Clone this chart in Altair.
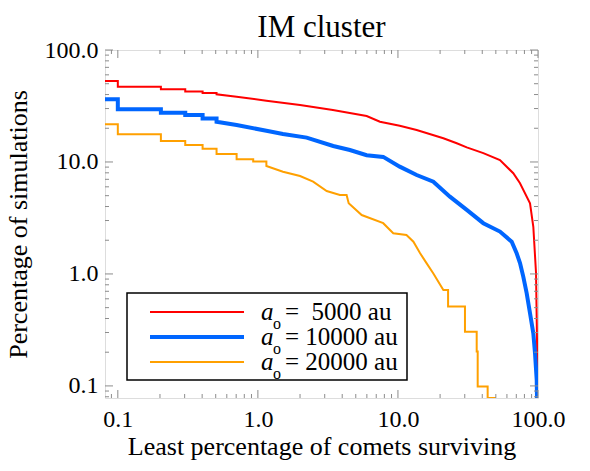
import altair as alt
import pandas as pd

# Survival curves for the IM cluster: percentage of simulations in which at
# least a given percentage of comets survive, for three initial semi-major axes.
red_x = [0.081, 0.1, 0.1, 0.203, 0.203, 0.303, 0.303, 0.403, 0.403, 0.507,
         0.507, 0.705, 1.15, 2.0, 3.43, 5.98, 7.44, 10.3, 13.6, 21.1,
         26.3, 31.0, 40.7, 53.5, 66.6, 74.4, 87.7, 92.6, 96.8, 98.4, 99.2]
red_y = [52.9, 52.9, 47.0, 47.0, 44.6, 44.6, 42.6, 42.6, 41.3, 41.3,
         40.2, 38.3, 35.3, 32.3, 29.1, 25.7, 22.9, 21.1, 19.3, 16.3,
         14.7, 13.5, 12.0, 10.4, 7.93, 6.45, 4.28, 2.64, 1.02, 0.257, 0.078]

blue_x = [0.081, 0.1, 0.1, 0.203, 0.203, 0.303, 0.303, 0.403, 0.403, 0.507,
          0.507, 0.705, 1.15, 1.51, 2.23, 3.45, 4.54, 5.98, 7.85, 10.3,
          13.6, 17.9, 23.5, 31.0, 40.7, 53.5, 64.9, 70.4, 74.4, 78.5,
          83.0, 87.7, 92.6, 95.2, 97.9, 98.4]
blue_y = [36.3, 36.3, 29.6, 29.6, 27.5, 27.5, 26.3, 26.3, 24.4, 24.4,
          22.9, 21.4, 19.0, 17.8, 16.5, 13.9, 12.8, 11.5, 11.1, 9.08,
          7.65, 6.67, 4.90, 3.73, 2.84, 2.39, 1.94, 1.53, 1.25, 0.946,
          0.673, 0.446, 0.295, 0.196, 0.113, 0.078]

orange_x = [0.081, 0.1, 0.1, 0.203, 0.203, 0.303, 0.303, 0.403, 0.403, 0.507,
            0.507, 0.705, 0.705, 0.926, 0.926, 1.15, 1.15, 1.51, 2.0, 2.48,
            3.10, 3.85, 4.30, 4.45, 5.51, 7.85, 9.26, 11.5, 12.9, 14.4,
            16.0, 17.9, 21.1, 22.8, 22.8, 30.1, 30.1, 36.5, 36.5, 37.1,
            37.1, 43.7, 43.7, 49.3, 49.3]
orange_y = [21.7, 21.7, 17.7, 17.7, 15.4, 15.4, 14.2, 14.2, 13.1, 13.1,
            11.8, 11.8, 10.6, 10.6, 10.1, 10.1, 9.21, 8.19, 7.50, 6.67,
            5.50, 5.08, 5.08, 4.28, 3.36, 2.84, 2.31, 2.23, 1.94, 1.53,
            1.25, 1.01, 0.72, 0.72, 0.511, 0.511, 0.305, 0.305, 0.203, 0.203,
            0.0986, 0.0986, 0.078, 0.078, 0.04]

series_names = ["5000", "10000", "20000"]
series_colors = ["#FF0000", "#0066FF", "#FFA000"]
series_widths = [2, 4, 2]
legend_numbers = ["=\u00a0 5000 au", "= 10000 au", "= 20000 au"]

# Log-axis tick positions (labelled majors and unlabelled minors)
x_major = [0.1, 1.0, 10.0, 100.0]
x_minor = [0.09, 0.2, 0.3, 0.4, 0.5, 0.6, 0.7, 0.8, 0.9,
           2, 3, 4, 5, 6, 7, 8, 9, 20, 30, 40, 50, 60, 70, 80, 90]
y_major = [0.1, 1.0, 10.0, 100.0]
y_minor = [0.08, 0.09, 0.2, 0.3, 0.4, 0.5, 0.6, 0.7, 0.8, 0.9,
           2, 3, 4, 5, 6, 7, 8, 9, 20, 30, 40, 50, 60, 70, 80, 90]

SERIF = "'Liberation Serif', 'Times New Roman', Times, serif"
W, H = 433, 348
FRAME = "#8c8c8c"
MAJOR_LEN, MINOR_LEN = 8, 4

x_scale = alt.Scale(type="log", domain=[0.081, 100], nice=False)
y_scale = alt.Scale(type="log", domain=[0.078, 100], nice=False)

x_axis = alt.Axis(values=x_major, format=".1f", ticks=False, domain=False,
                  grid=False, labelFont=SERIF, labelFontSize=24,
                  labelColor="black", labelPadding=9, labelFlush=False,
                  labelOverlap=False,
                  title="Least percentage of comets surviving",
                  titleFont=SERIF, titleFontSize=26, titleFontWeight="normal",
                  titleColor="black", titlePadding=2)
y_axis = alt.Axis(values=y_major, format=".1f", ticks=False, domain=False,
                  grid=False, labelFont=SERIF, labelFontSize=24,
                  labelColor="black", labelPadding=7, labelFlush=False,
                  labelOverlap=False,
                  title="Percentage of simulations",
                  titleFont=SERIF, titleFontSize=26, titleFontWeight="normal",
                  titleColor="black", titlePadding=13)

x_enc = alt.X("x:Q", scale=x_scale, axis=x_axis)
y_enc = alt.Y("y:Q", scale=y_scale, axis=y_axis)

layers = []

# Curves, drawn in legend order
for name, xs, ys, color, width in zip(
        series_names, [red_x, blue_x, orange_x], [red_y, blue_y, orange_y],
        series_colors, series_widths):
    df = pd.DataFrame({"x": xs, "y": ys, "i": range(len(xs))})
    layers.append(
        alt.Chart(df).mark_line(color=color, strokeWidth=width, clip=True,
                                strokeJoin="miter")
        .encode(x=x_enc, y=y_enc, order="i:Q")
    )

# Inward tick marks on all four sides of the frame
for vals, length in [(x_major, MAJOR_LEN), (x_minor, MINOR_LEN)]:
    tdf = pd.DataFrame({"x": vals})
    base = alt.Chart(tdf).mark_rule(color=FRAME, strokeWidth=1)
    layers.append(base.encode(x=x_enc, y=alt.value(H), y2=alt.value(H - length)))
    layers.append(base.encode(x=x_enc, y=alt.value(0), y2=alt.value(length)))
for vals, length in [(y_major, MAJOR_LEN), (y_minor, MINOR_LEN)]:
    tdf = pd.DataFrame({"y": vals})
    base = alt.Chart(tdf).mark_rule(color=FRAME, strokeWidth=1)
    layers.append(base.encode(y=y_enc, x=alt.value(0), x2=alt.value(length)))
    layers.append(base.encode(y=y_enc, x=alt.value(W), x2=alt.value(W - length)))

# Legend box
one = pd.DataFrame({"k": [0]})
layers.append(
    alt.Chart(one).mark_rect(fill="white", stroke="black", strokeWidth=1.5)
    .encode(x=alt.value(22), x2=alt.value(302), y=alt.value(243), y2=alt.value(330))
)
for row, (color, width, numtxt) in enumerate(
        zip(series_colors, series_widths, legend_numbers)):
    ly = 262 + 25 * row
    lrow = pd.DataFrame({"a": ["a"], "o": ["o"], "t": [numtxt]})
    layers.append(
        alt.Chart(lrow).mark_rule(color=color, strokeWidth=width)
        .encode(x=alt.value(45), x2=alt.value(139), y=alt.value(ly))
    )
    layers.append(
        alt.Chart(lrow).mark_text(font=SERIF, fontSize=25, fontStyle="italic",
                                  align="left", baseline="alphabetic", color="black")
        .encode(text="a:N", x=alt.value(156), y=alt.value(ly + 8))
    )
    layers.append(
        alt.Chart(lrow).mark_text(font=SERIF, fontSize=16, align="left",
                                  baseline="alphabetic", color="black")
        .encode(text="o:N", x=alt.value(168), y=alt.value(ly + 17))
    )
    layers.append(
        alt.Chart(lrow).mark_text(font=SERIF, fontSize=25, align="left",
                                  baseline="alphabetic", color="black")
        .encode(text="t:N", x=alt.value(180), y=alt.value(ly + 8))
    )

chart = (
    alt.layer(*layers)
    .properties(
        width=W, height=H,
        title=alt.TitleParams("IM cluster", font=SERIF, fontSize=31,
                              fontWeight="normal", color="black",
                              anchor="middle", offset=8, dy=14),
        autosize=alt.AutoSizeParams(type="none"),
        padding={"left": 105, "top": 50, "right": 52, "bottom": 73},
    )
    .configure_view(stroke=FRAME, strokeWidth=2)
    .configure(background="white")
)

chart.save("out.html", embed_options={"renderer": "svg", "actions": False})
